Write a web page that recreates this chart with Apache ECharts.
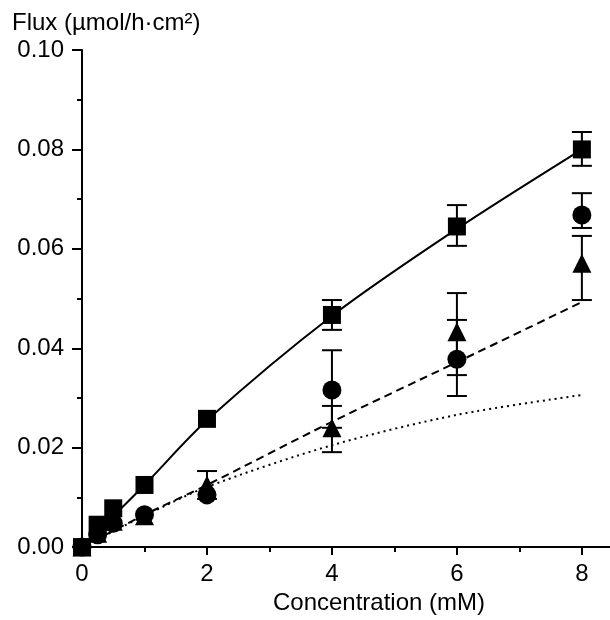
<!DOCTYPE html>
<html>
<head>
<meta charset="utf-8">
<script src="https://cdn.jsdelivr.net/npm/echarts@6/dist/echarts.min.js"></script>
<style>
  html, body { margin: 0; padding: 0; background: #fff; }
  #chart-container { width: 610px; height: 620px; }
</style>
</head>
<body>
<div id="chart-container"></div>
<script>
// concentration (mM)
var conc = [0, 0.25, 0.5, 1, 2, 4, 6, 8];

// measured flux, three groups (square / circle / triangle)
var squares   = [0, 0.0045, 0.0078, 0.0125, 0.0258, 0.0467, 0.0645, 0.0800];
var circles   = [0, 0.0025, 0.0048, 0.0065, 0.0105, 0.0316, 0.0378, 0.0668];
var triangles = [0, 0.0028, 0.0052, 0.0063, 0.0125, 0.0240, 0.0433, 0.0571];

// error bar ends (null = hidden under the marker)
var squaresHi   = [null, null, null, null, null, 0.0497, 0.0688, 0.0835];
var squaresLo   = [null, null, null, null, null, 0.0437, 0.0606, 0.0767];
var circlesHi   = [null, null, null, null, null, 0.0396, 0.0457, 0.0712];
var circlesLo   = [null, null, null, null, null, 0.0240, 0.0304, 0.0642];
var trianglesHi = [null, null, null, null, 0.0153, 0.0284, 0.0511, 0.0626];
var trianglesLo = [null, null, null, null, 0.0097, 0.0191, 0.0346, 0.0497];

// fitted curves
var fitX      = [0, 1, 2, 4, 6, 8];
var fitSolid  = [0, 0.0125, 0.0255, 0.0465, 0.0640, 0.0800];
var fitDashed = [0, 0.0065, 0.0125, 0.0252, 0.0372, 0.0493];
var fitDotted = [0, 0.0063, 0.0121, 0.0205, 0.0266, 0.0306];

var xLabels = [0, 2, 4, 6, 8];
var xMinor  = [1, 3, 5, 7];

var font = 'Liberation Sans, Arial, Helvetica, sans-serif';

function pairs(xs, ys) {
  return xs.map(function (x, i) { return [x, ys[i]]; });
}
function errData(lo, hi) {
  var out = [];
  conc.forEach(function (x, i) {
    if (lo[i] != null) out.push([x, lo[i], hi[i]]);
  });
  return out;
}
function renderErr(params, api) {
  var lo = api.coord([api.value(0), api.value(1)]);
  var hi = api.coord([api.value(0), api.value(2)]);
  var w = 10;
  var st = { stroke: '#000', lineWidth: 2 };
  return {
    type: 'group',
    children: [
      { type: 'line', shape: { x1: lo[0], y1: lo[1], x2: hi[0], y2: hi[1] }, style: st },
      { type: 'line', shape: { x1: hi[0] - w, y1: hi[1], x2: hi[0] + w, y2: hi[1] }, style: st },
      { type: 'line', shape: { x1: lo[0] - w, y1: lo[1], x2: lo[0] + w, y2: lo[1] }, style: st }
    ]
  };
}
function errSeries(lo, hi) {
  return {
    type: 'custom',
    renderItem: renderErr,
    data: errData(lo, hi),
    encode: { x: 0, y: [1, 2] },
    z: 2,
    silent: true
  };
}
function fitSeries(ys, lineType) {
  return {
    type: 'line',
    data: pairs(fitX, ys),
    smooth: 0.3,
    showSymbol: false,
    lineStyle: { color: '#000', width: 2, type: lineType },
    z: 1,
    silent: true
  };
}
function dotSeries(ys, symbol, size) {
  return {
    type: 'scatter',
    data: pairs(conc, ys),
    symbol: symbol,
    symbolSize: size,
    itemStyle: { color: '#000', opacity: 1 },
    z: 3
  };
}

var myChart = echarts.init(document.getElementById('chart-container'));

var option = {
  animation: false,
  backgroundColor: '#fff',
  textStyle: { fontFamily: font },
  grid: { left: 82, right: 0, top: 50, bottom: 70 },
  xAxis: [{
    type: 'value',
    min: 0,
    max: 8.45,
    name: 'Concentration (mM)',
    nameLocation: 'middle',
    nameGap: 40,
    nameTextStyle: { color: '#000', fontSize: 24, fontFamily: font, padding: [0, 0, 0, 66] },
    splitLine: { show: false },
    axisLine: { lineStyle: { color: '#000', width: 2 } },
    axisTick: { customValues: xLabels, length: 8, lineStyle: { color: '#000', width: 2 } },
    axisLabel: { customValues: xLabels, color: '#000', fontSize: 24, fontFamily: font, margin: 15 }
  }, {
    // short ticks at odd concentrations
    type: 'value',
    position: 'bottom',
    min: 0,
    max: 8.45,
    splitLine: { show: false },
    axisLine: { show: false },
    axisTick: { customValues: xMinor, length: 5, lineStyle: { color: '#000', width: 2 } },
    axisLabel: { show: false }
  }],
  yAxis: {
    type: 'value',
    min: 0,
    max: 0.1,
    interval: 0.02,
    name: 'Flux (µmol/h·cm²)',
    nameLocation: 'end',
    nameGap: 15,
    nameTextStyle: { color: '#000', fontSize: 24, fontFamily: font, align: 'left', padding: [0, 0, 0, -70] },
    splitLine: { show: false },
    axisLine: { lineStyle: { color: '#000', width: 2 } },
    axisTick: { length: 10, lineStyle: { color: '#000', width: 2 } },
    minorTick: { show: true, splitNumber: 2, length: 5, lineStyle: { color: '#000', width: 2 } },
    axisLabel: {
      color: '#000',
      fontSize: 24,
      fontFamily: font,
      margin: 18,
      formatter: function (v) { return v.toFixed(2); }
    }
  },
  series: [
    fitSeries(fitSolid, 'solid'),
    fitSeries(fitDashed, [8, 5]),
    fitSeries(fitDotted, [2, 4]),
    errSeries(squaresLo, squaresHi),
    errSeries(circlesLo, circlesHi),
    errSeries(trianglesLo, trianglesHi),
    dotSeries(squares, 'rect', 18),
    dotSeries(circles, 'circle', 19),
    dotSeries(triangles, 'triangle', 19)
  ]
};

myChart.setOption(option);
</script>
</body>
</html>
